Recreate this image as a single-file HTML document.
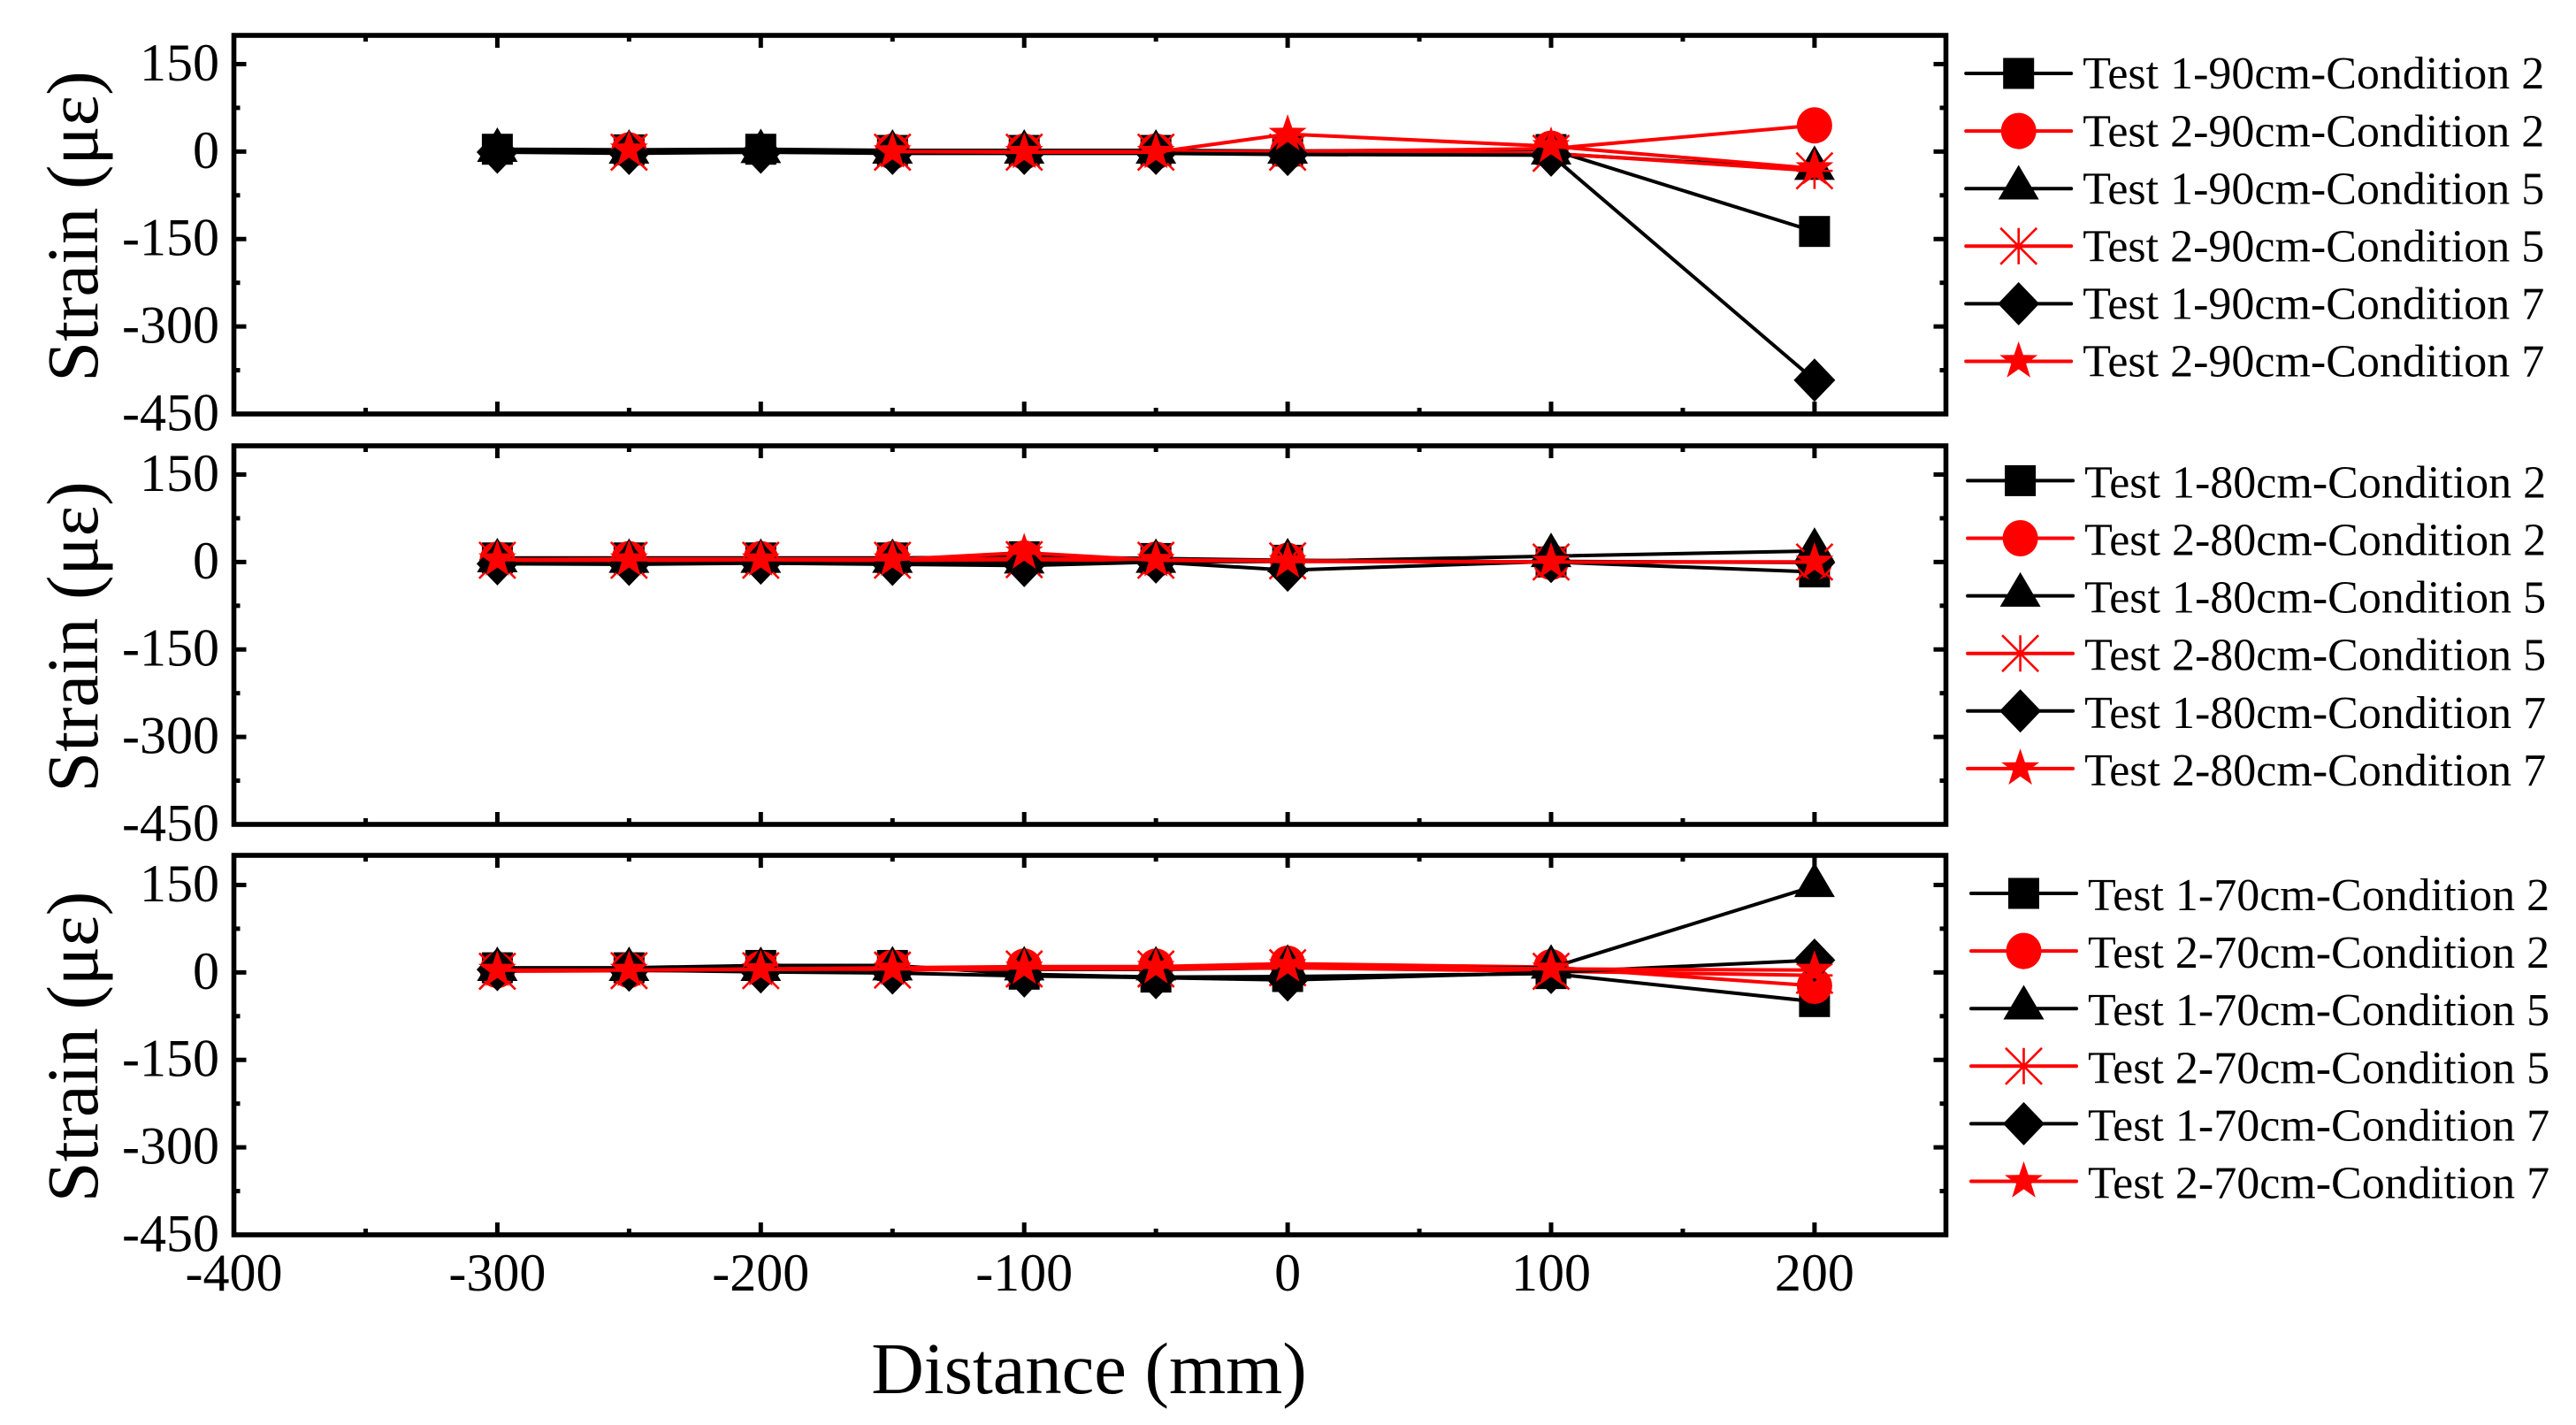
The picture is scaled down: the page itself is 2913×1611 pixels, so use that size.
<!DOCTYPE html>
<html lang="en">
<head>
<meta charset="utf-8">
<title>Strain vs Distance</title>
<style>
  html, body { margin: 0; padding: 0; background: #fff; }
  svg { display: block; }
  text { font-family: "Liberation Serif", "DejaVu Serif", serif; fill: #000; }
</style>
</head>
<body>
<svg id="chart" xmlns="http://www.w3.org/2000/svg" width="2913" height="1611" viewBox="0 0 2913 1611">
  <rect x="0" y="0" width="2913" height="1611" fill="#fff"></rect>
  <text x="1231.5" y="1575" font-size="82.5" text-anchor="middle">Distance (mm)</text>
</svg>
<script>
// Shared axis data
const distances = [-300, -250, -200, -150, -100, -50, 0, 100, 200];
const xTickValues = [-400, -300, -200, -100, 0, 100, 200];
const xTickLabels = ['-400', '-300', '-200', '-100', '0', '100', '200'];
const xMinorValues = [-350, -250, -150, -50, 50, 150];
const yTickValues = [150, 0, -150, -300, -450];
const yTickLabels = ['150', '0', '-150', '-300', '-450'];
const yMinorValues = [75, -75, -225, -375];

// Panel heights (cm)
const heights = ['90cm', '80cm', '70cm'];

// Series descriptors
const seriesTests = ['Test 1', 'Test 2', 'Test 1', 'Test 2', 'Test 1', 'Test 2'];
const seriesConditions = ['Condition 2', 'Condition 2', 'Condition 5', 'Condition 5', 'Condition 7', 'Condition 7'];

// Panel 1 (90 cm) strain values
const p90t1c2 = [4, 3, 4, 2, 2, 2, 1, 3.5, -137];
const p90t2c2 = [null, 2, null, 0, 0, 0, 0, 5, 45];
const p90t1c5 = [1, -2, -1, -2, -2, -2, -2, -3.5, -30];
const p90t2c5 = [null, -1, null, -1, -1, -1, -1, -3, -33];
const p90t1c7 = [-1, -3, -1, -3, -3, -3, -5, -6, -392];
const p90t2c7 = [null, 3, null, 0, -1, -1, 30, 9, -29];

// Panel 2 (80 cm) strain values
const p80t1c2 = [7, 7, 7, 7, 9, 6, 3, 0, -17];
const p80t2c2 = [4, 5, 5, 5, 6, 4, 2, 0, 0];
const p80t1c5 = [1, 0, 0, 0, -1, 0, 1, 10, 19];
const p80t2c5 = [3, 3, 3, 3, 4, 3, 2, 0, 0];
const p80t1c7 = [-3, -4, -2, -4, -6, 0, -14, 1, -1];
const p80t2c7 = [4, 4, 4, 4, 16, 3, 1, 0, 0];

// Panel 3 (70 cm) strain values
const p70t1c2 = [8, 8, 12, 12, -3, -8, -7, -2, -50];
const p70t2c2 = [4, 4, 6, 8, 10, 10, 15, 9, -23];
const p70t1c5 = [4, 4, 4, 5, 5, 5, 8, 8, 148];
const p70t2c5 = [2, 3, 3, 4, 6, 6, 8, 2, -5];
const p70t1c7 = [5, 4, 1, -1, -6, -9, -13, 0, 21];
const p70t2c7 = [4, 4, 5, 6, 8, 9, 12, 6, 4];

const chart = document.getElementById('chart');
const NS = 'http://www.w3.org/2000/svg';

function xScale(v) { return 264.5 + (v + 400) * 2.979; }
function yScale(panelBottom, v) { return panelBottom - (v + 450) * 0.6592; }

function make(tag, attrs, parent) {
  const el = document.createElementNS(NS, tag);
  for (const k in attrs) { el.setAttribute(k, attrs[k]); }
  parent.appendChild(el);
  return el;
}

const layouts = [
  { top: 40, bottom: 468, legendX: 2282.7, legendY: 83, legendTextDy: 17.2, values: [p90t1c2, p90t2c2, p90t1c5, p90t2c5, p90t1c7, p90t2c7] },
  { top: 504, bottom: 932, legendX: 2284.6, legendY: 543.4, legendTextDy: 19, values: [p80t1c2, p80t2c2, p80t1c5, p80t2c5, p80t1c7, p80t2c7] },
  { top: 967, bottom: 1396, legendX: 2288.5, legendY: 1010, legendTextDy: 19, values: [p70t1c2, p70t2c2, p70t1c5, p70t2c5, p70t1c7, p70t2c7] }
];

function colorOf(i) { return i % 2 === 0 ? '#000' : '#f00'; }

function drawMarker(kind, cx, cy, color, parent) {
  let m;
  if (kind === 0) {
    m = make('rect', { x: cx - 17.5, y: cy - 17.5, width: 35, height: 35, fill: color }, parent);
  } else if (kind === 1) {
    m = make('ellipse', { cx: cx, cy: cy, rx: 20, ry: 20.5, fill: color }, parent);
  } else if (kind === 2) {
    const pts = [[cx, cy - 26.7], [cx + 23, cy + 12.3], [cx - 23, cy + 12.3]];
    m = make('polygon', { points: pts.map(p => p.join(',')).join(' '), fill: color }, parent);
  } else if (kind === 3) {
    const r = 20.5;
    const d = 'M' + cx + ' ' + (cy - r) + 'V' + (cy + r) +
      'M' + (cx - r) + ' ' + cy + 'H' + (cx + r) +
      'M' + (cx - r) + ' ' + (cy - r) + 'L' + (cx + r) + ' ' + (cy + r) +
      'M' + (cx + r) + ' ' + (cy - r) + 'L' + (cx - r) + ' ' + (cy + r);
    m = make('path', { d: d, stroke: color, 'stroke-width': 2.6, fill: 'none' }, parent);
  } else if (kind === 4) {
    const pts = [[cx, cy - 24.5], [cx + 23.5, cy], [cx, cy + 24.5], [cx - 23.5, cy]];
    m = make('polygon', { points: pts.map(p => p.join(',')).join(' '), fill: color }, parent);
  } else {
    const pts = [];
    for (let k = 0; k < 10; k++) {
      const r = k % 2 === 0 ? 22.6 : 8.9;
      const a = -Math.PI / 2 + k * Math.PI / 5;
      pts.push([cx + r * Math.cos(a), cy + r * Math.sin(a)]);
    }
    m = make('polygon', { points: pts.map(p => p[0].toFixed(2) + ',' + p[1].toFixed(2)).join(' '), fill: color }, parent);
  }
  return m;
}

layouts.forEach(function (panel, pi) {
  const group = make('g', {}, chart);
  
  

  const frame = make('rect', {
    x: 264.5, y: panel.top, width: 1936, height: panel.bottom - panel.top,
    fill: 'none', stroke: '#000', 'stroke-width': 5.6
  }, group);
  
  

  // x ticks (bottom and top, pointing inward)
  xTickValues.concat(xMinorValues).forEach(function (v, i) {
    const len = i < xTickValues.length ? 14 : 7;
    const x = xScale(v);
    const bottomTick = make('line', { x1: x, x2: x, y1: panel.bottom, y2: panel.bottom - len, stroke: '#000', 'stroke-width': 5 }, group);
    
    
    const topTick = make('line', { x1: x, x2: x, y1: panel.top, y2: panel.top + len, stroke: '#000', 'stroke-width': 5 }, group);
    
    
  });

  // y ticks (left and right, pointing inward)
  yTickValues.concat(yMinorValues).forEach(function (v, i) {
    const len = i < yTickValues.length ? 14 : 7;
    const y = yScale(panel.bottom, v);
    const leftTick = make('line', { x1: 264.5, x2: 264.5 + len, y1: y, y2: y, stroke: '#000', 'stroke-width': 5 }, group);
    
    
    const rightTick = make('line', { x1: 2200.5, x2: 2200.5 - len, y1: y, y2: y, stroke: '#000', 'stroke-width': 5 }, group);
    
    
  });

  // y tick labels
  yTickValues.forEach(function (v, i) {
    const label = make('text', { x: 248, y: yScale(panel.bottom, v) + 18.5, 'font-size': 60, 'text-anchor': 'end' }, group);
    label.textContent = yTickLabels[i];
    
    
  });

  // y axis title
  const cy = (panel.top + panel.bottom) / 2 + 2;
  const title = make('text', { x: 0, y: 0, 'font-size': 82.5, 'text-anchor': 'middle', transform: 'translate(110 ' + cy + ') rotate(-90)' }, group);
  title.textContent = 'Strain (\u03BC\u03B5)';
  
  

  // Series
  panel.values.forEach(function (vals, si) {
    const color = colorOf(si);
    const sGroup = make('g', {}, group);
    
    

    let d = '';
    let pen = false;
    vals.forEach(function (v, i) {
      if (v === null) { pen = false; return; }
      d += (pen ? 'L' : 'M') + xScale(distances[i]).toFixed(2) + ' ' + yScale(panel.bottom, v).toFixed(2);
      pen = true;
    });
    const path = make('path', { d: d, fill: 'none', stroke: color, 'stroke-width': 4, 'stroke-linejoin': 'round' }, sGroup);
    
    

    vals.forEach(function (v, i) {
      if (v === null) { return; }
      const mark = drawMarker(si, xScale(distances[i]), yScale(panel.bottom, v), color, sGroup);
      
      
    });
  });

  // Legend
  const legend = make('g', {}, group);
  
  
  seriesTests.forEach(function (test, si) {
    const color = colorOf(si);
    const ly = panel.legendY + si * 65.1;
    const entry = make('g', {}, legend);
    
    
    const sample = make('line', {
      x1: panel.legendX - 59.5, x2: panel.legendX + 59.5, y1: ly, y2: ly,
      stroke: color, 'stroke-width': 4, 'stroke-linecap': 'round'
    }, entry);
    
    
    const symbol = drawMarker(si, panel.legendX, ly, color, entry);
    
    
    const text = make('text', { x: panel.legendX + 72.5, y: ly + panel.legendTextDy, 'font-size': 52 }, entry);
    text.textContent = test + '-' + heights[pi] + '-' + seriesConditions[si];
    
    
  });
});

// x tick labels below bottom panel
xTickValues.forEach(function (v, i) {
  const label = make('text', { x: xScale(v), y: 1459, 'font-size': 60, 'text-anchor': 'middle' }, chart);
  label.textContent = xTickLabels[i];
  
  
});
</script>
</body>
</html>
